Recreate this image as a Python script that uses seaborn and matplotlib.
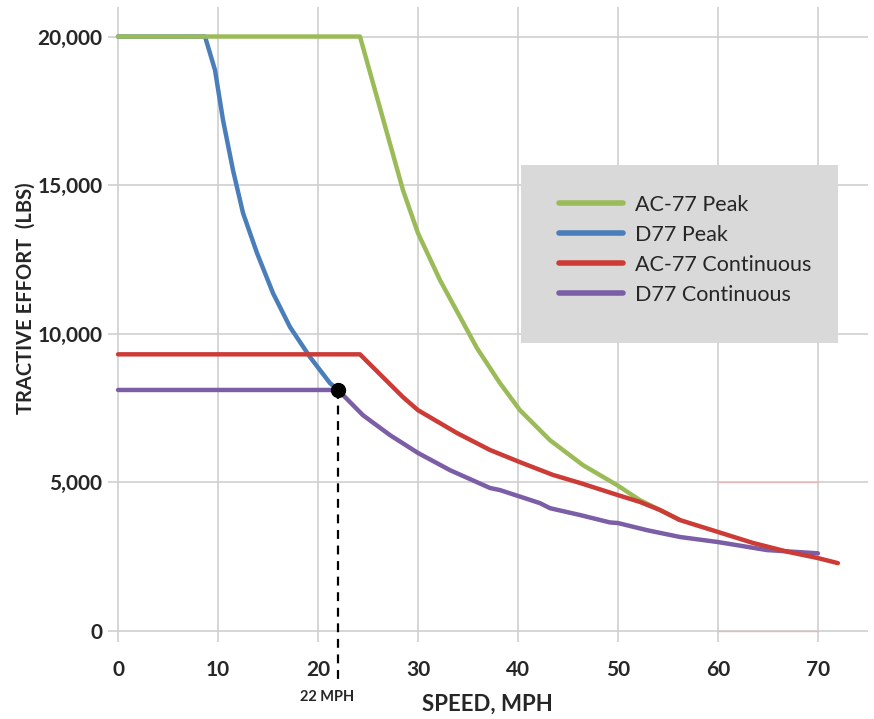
import matplotlib
matplotlib.use("Agg")
import matplotlib.pyplot as plt
from matplotlib.patches import Rectangle
import seaborn as sns
import pandas as pd

# values
ac77_peak_speed = [0, 24.2, 28.5, 30, 32.2, 35.9, 38.2, 40.2, 43.2, 46.5, 49.9, 52.2, 54.2, 56.2]
ac77_peak_te = [20000, 20000, 14830, 13380, 11800, 9510, 8330, 7420, 6410, 5570, 4900, 4390, 4060, 3720]

d77_peak_speed = [0, 8.7, 9.7, 10.5, 11.5, 12.5, 13.9, 15.5, 17.2, 19.2, 21.2, 22]
d77_peak_te = [20000, 20000, 18870, 17190, 15500, 14060, 12710, 11360, 10220, 9210, 8330, 8100]

ac77_cont_speed = [0, 24.2, 28.5, 30, 33.9, 37.2, 40.2, 43.5, 46.2, 50, 52.2, 54.2, 56.2, 60, 63.5, 67, 70, 72]
ac77_cont_te = [9300, 9300, 7860, 7420, 6650, 6080, 5670, 5240, 4970, 4560, 4330, 4060, 3720, 3320, 2950, 2650, 2440, 2270]

d77_cont_speed = [0, 22, 24.5, 27.2, 30, 33.2, 37.2, 38.2, 42.2, 43.2, 46.2, 49.2, 50, 52.9, 56.2, 60, 64.9, 70]
d77_cont_te = [8100, 8100, 7250, 6580, 5980, 5400, 4800, 4730, 4290, 4120, 3890, 3640, 3620, 3380, 3150, 2980, 2710, 2600]

series_names = ["AC-77 Peak", "D77 Peak", "AC-77 Continuous", "D77 Continuous"]
x_ticks = [0, 10, 20, 30, 40, 50, 60, 70]
y_ticks = [0, 5000, 10000, 15000, 20000]
y_tick_labels = ["0", "5,000", "10,000", "15,000", "20,000"]
marker_speed = 22
marker_te = 8100

sns.set_style("white")
plt.rcParams["font.family"] = ["Lato", "DejaVu Sans"]

colors = {"AC-77 Peak": "#9bbb59", "D77 Peak": "#4a7ebb",
          "AC-77 Continuous": "#cc3b36", "D77 Continuous": "#7b5ea6"}
zorders = {"AC-77 Peak": 4, "D77 Peak": 3, "AC-77 Continuous": 6, "D77 Continuous": 5}

data = {
    "AC-77 Peak": (ac77_peak_speed, ac77_peak_te),
    "D77 Peak": (d77_peak_speed, d77_peak_te),
    "AC-77 Continuous": (ac77_cont_speed, ac77_cont_te),
    "D77 Continuous": (d77_cont_speed, d77_cont_te),
}

fig = plt.figure(figsize=(8.74, 7.19), dpi=100)
ax = fig.add_axes([0.1236, 0.1065, 0.8694, 0.884])

for name in series_names:
    sx, sy = data[name]
    df = pd.DataFrame({"speed": sx, "te": sy})
    sns.lineplot(data=df, x="speed", y="te", ax=ax, color=colors[name], lw=3.2,
                 sort=False, estimator=None, zorder=zorders[name], label=name)

# 22 mph marker + dashed drop line
ax.plot([marker_speed, marker_speed], [marker_te, -1700], color="black", lw=1.6,
        ls=(0, (4, 3)), clip_on=False, zorder=7)
ax.plot([marker_speed], [marker_te], "o", color="black", ms=10, zorder=8)

# faint reddish gridline segments seen in the original
ax.plot([60, 70], [5000, 5000], color="#e8b8b8", lw=1, zorder=1)
ax.plot([60, 70], [0, 0], color="#e8b8b8", lw=1, zorder=1)

ax.set_xlim(-1, 75)
ax.set_ylim(-400, 21000)
ax.set_xticks(x_ticks)
ax.set_yticks(y_ticks)
ax.set_yticklabels(y_tick_labels)
ax.grid(True, color="#cfcfcf", lw=1.2)
ax.set_axisbelow(True)
for s in ax.spines.values():
    s.set_visible(False)
ax.tick_params(axis="both", length=0, labelsize=15)
ax.tick_params(axis="x", pad=13)
ax.tick_params(axis="y", pad=4)
for lab in ax.get_xticklabels() + ax.get_yticklabels():
    lab.set_fontweight("bold")
ax.set_xlabel("")
ax.set_ylabel("")

# legend box
ax.add_patch(Rectangle((0.5434, 0.471), 0.4171, 0.2801, transform=ax.transAxes,
                       facecolor="#d9d9d9", edgecolor="none", zorder=2))
leg = ax.legend(loc="upper left", bbox_to_anchor=(0.579, 0.721), frameon=False,
                fontsize=15.5, handlelength=3.0, handletextpad=0.55,
                labelspacing=0.46, borderpad=0)
leg.set_zorder(9)
for h in leg.get_lines():
    h.set_linewidth(4)

fig.text(0.374, 0.031, "22 MPH", fontsize=10.5, fontweight="bold", ha="center", va="center")
fig.text(0.558, 0.02, "SPEED, MPH", fontsize=16, fontweight="bold", ha="center", va="center")
fig.text(0.029, 0.585, "TRACTIVE EFFORT  (LBS)", fontsize=14.5, fontweight="bold",
         rotation=90, ha="center", va="center")

fig.savefig("out.png", dpi=100)
